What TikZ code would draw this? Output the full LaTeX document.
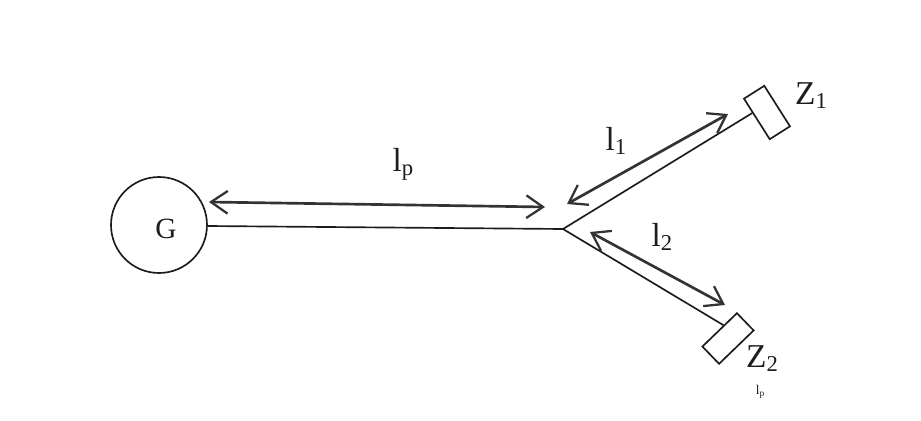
\documentclass[tikz,border=0pt]{standalone}
\usepackage{fontspec}
\setmainfont{Liberation Serif}
\usetikzlibrary{arrows.meta,calc}
\definecolor{ink}{HTML}{1C1C1C}
\definecolor{arrowink}{HTML}{333333}
\tikzset{
  wire/.style={draw=ink,line width=1.25pt},
  span/.style={draw=arrowink,line width=2pt,{Straight Barb[length=12.5pt,width=17pt,line width=1.7pt]}-{Straight Barb[length=12.5pt,width=17pt,line width=1.7pt]}},
  load/.style={draw=ink,line width=1.25pt,minimum width=36pt,minimum height=18pt,inner sep=0pt,fill=white},
  lab/.style={text=ink,inner sep=0pt,font=\fontsize{25}{27}\selectfont},
}
\newcommand{\lbl}[2]{#1\raisebox{-0.12em}{\fontsize{17}{18}\selectfont #2}}
\begin{document}
\begin{tikzpicture}[x=0.75pt,y=-0.75pt]
\useasboundingbox[fill=white] (0,0) rectangle (921,421);
\node[draw=ink,line width=1.25pt,circle,minimum size=72pt,inner sep=0pt] (gen) at (159,225) {};
\node[lab,font=\fontsize{22}{24}\selectfont] (gtxt) at (166,229) {G};
\coordinate (junction) at (563,229);
\node[load,rotate=-57.6] (zone) at (767,112.5) {};
\node[load,rotate=44] (ztwo) at (728,338.5) {};
\coordinate (zoneport) at ($(zone.south west)!.35!(zone.south east)$);
\coordinate (ztwoport) at ($(ztwo.north west)!.62!(ztwo.north east)$);
\draw[wire] (gen.east |- 0,226) -- (junction);
\draw[wire] (junction) -- (zoneport);
\draw[wire] (junction) -- (ztwoport);
\coordinate (pa) at (209,202);
\coordinate (pb) at (545,207);
\coordinate (oa) at (567,204);
\coordinate (ob) at (728,114);
\coordinate (ta) at (590,232);
\coordinate (tb) at (725,305);
\draw[span] (pa) -- (pb);
\draw[span] (oa) -- (ob);
\draw[span] (ta) -- (tb);
\node[lab] (lp) at (403,164) {\lbl{l}{p}};
\node[lab] (lone) at (616,141) {\lbl{l}{1}};
\node[lab] (ltwo) at (662,237) {\lbl{l}{2}};
\node[lab] (zonetxt) at (811,96) {\lbl{Z}{1}};
\node[lab] (ztwotxt) at (762,359) {\lbl{Z}{2}};
\node[text=ink,inner sep=0pt,font=\fontsize{10}{11}\selectfont] (stray) at (760,392) {l\raisebox{-0.12em}{\fontsize{7}{8}\selectfont p}};
\end{tikzpicture}
\end{document}
